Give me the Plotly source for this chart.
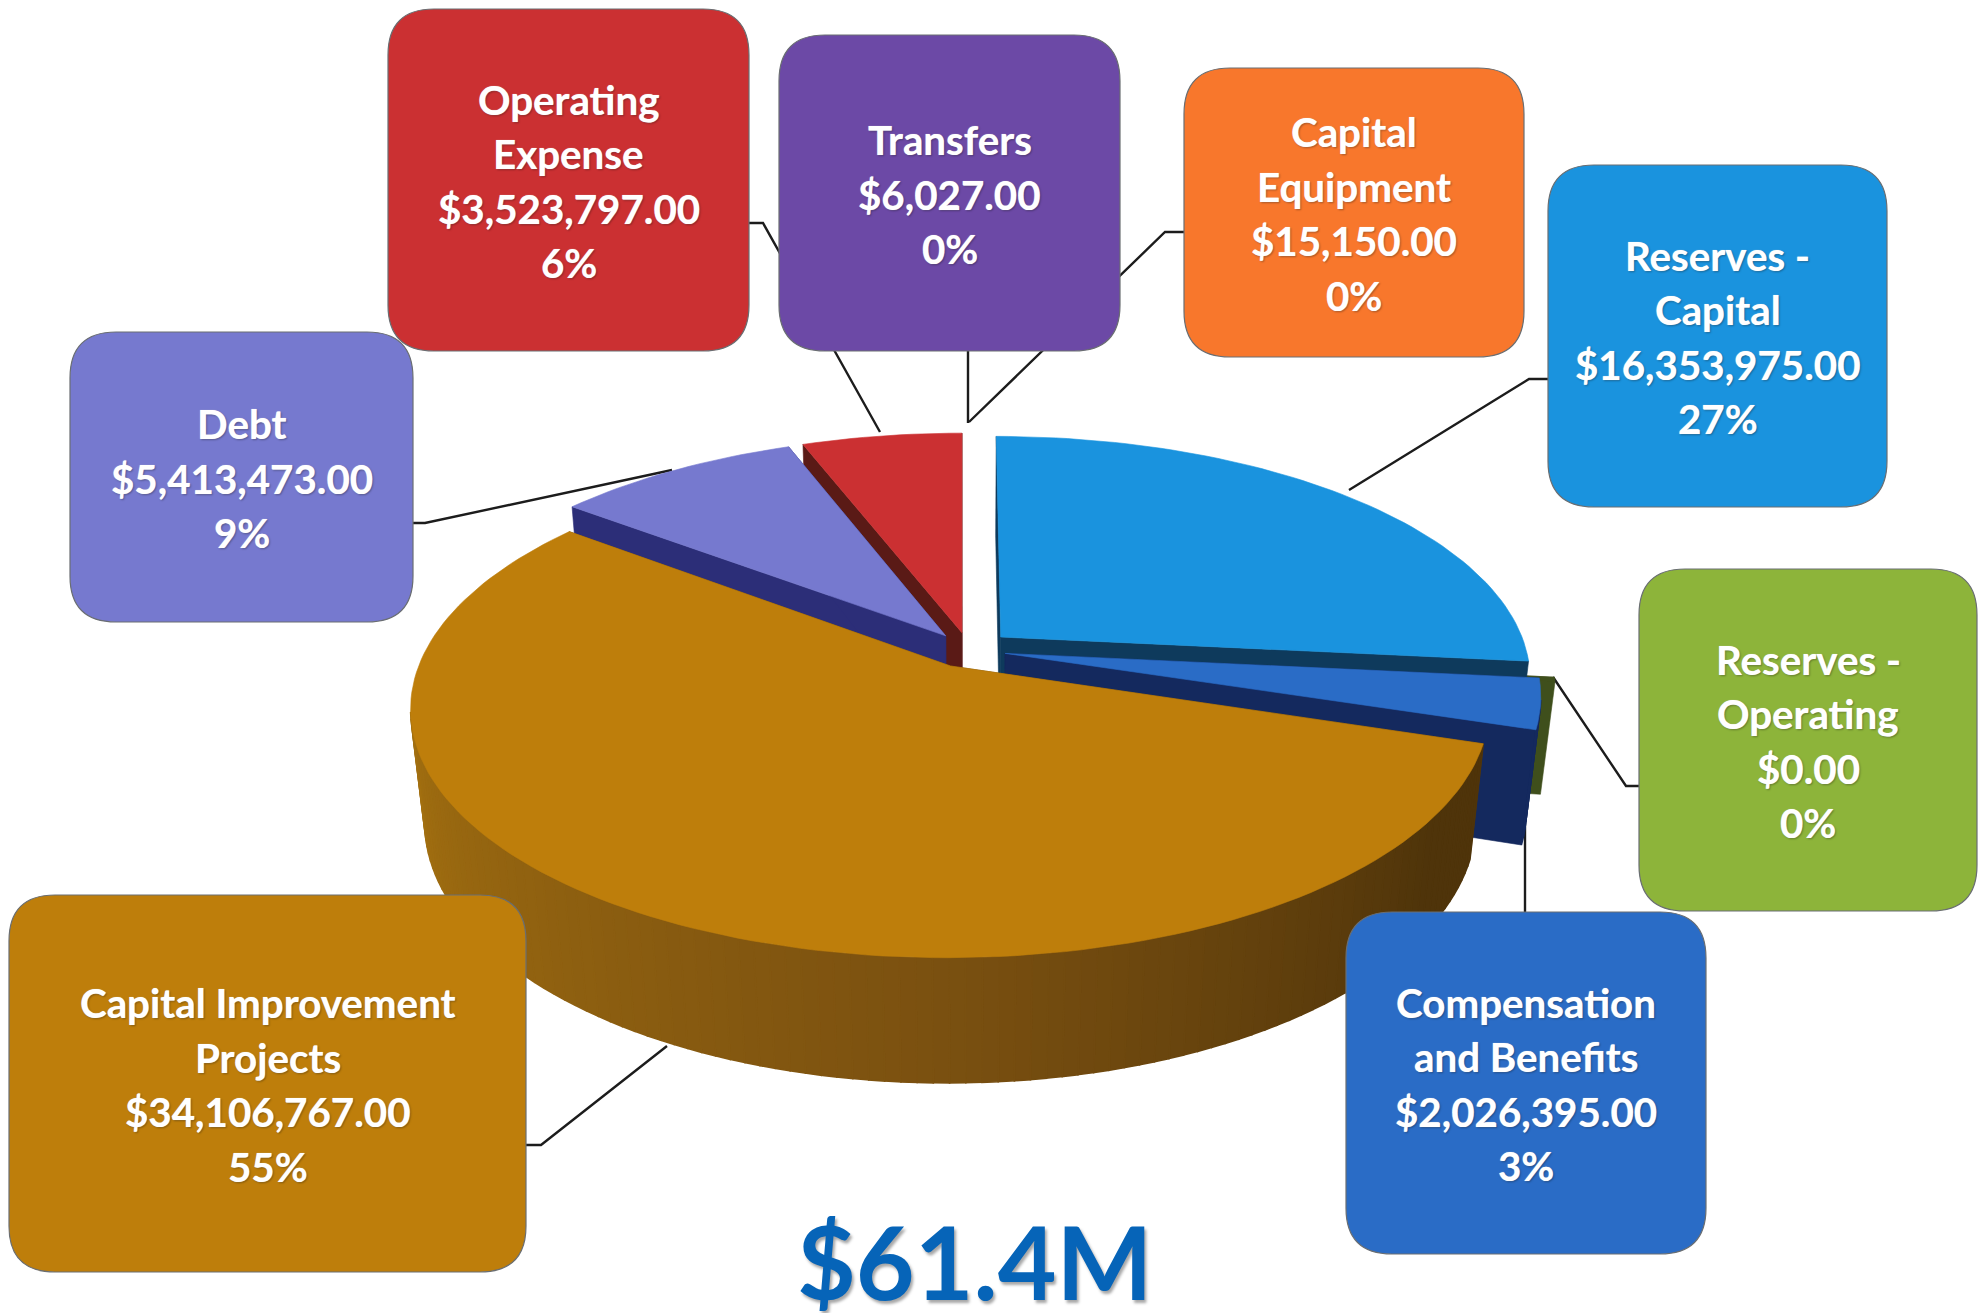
import math
import plotly.graph_objects as go

W, H = 1986, 1313

# ---- data ----
categories = ["Reserves - Capital", "Reserves - Operating", "Compensation and Benefits",
              "Capital Improvement Projects", "Debt", "Operating Expense", "Transfers", "Capital Equipment"]
values = [16353975, 0, 2026395, 34106767, 5413473, 3523797, 6027, 15150]
percents = ["27%", "0%", "3%", "55%", "9%", "6%", "0%", "0%"]
label_lines = [["Reserves -", "Capital"], ["Reserves -", "Operating"], ["Compensation", "and Benefits"],
               ["Capital Improvement", "Projects"], ["Debt"], ["Operating", "Expense"], ["Transfers"],
               ["Capital", "Equipment"]]
total_label = "$61.4M"

# ---- styles / layout ----
top_colors = ["#1A93DE", "#8DB43A", "#2A6CC6", "#BE7E0B", "#7679CF", "#CB3032", "#6C49A6", "#F8772C"]
wall_colors = ["#0E3A5C", "#3F4F1C", "#14295E", "#6E4A0C", "#2C2E78", "#5A1A16", "#33205A", "#7A3A10"]
boxes = [(1548, 165, 1887, 507), (1639, 569, 1977, 911), (1346, 912, 1706, 1254), (9, 895, 526, 1272),
         (70, 332, 413, 622), (388, 9, 749, 351), (779, 35, 1120, 351), (1184, 68, 1524, 357)]
leaders = [[(1548, 379), (1529, 379), (1349, 490)],
           [(1639, 786), (1626, 786), (1553, 677)],
           [(1525, 912), (1525, 817)],
           [(526, 1145), (541, 1145), (667, 1046)],
           [(413, 523), (425, 523), (672, 470)],
           [(749, 223), (763, 223), (880, 432)],
           [(968, 351), (968, 423)],
           [(1184, 232), (1165, 232), (969, 422)]]
CX, CY = 969, 650      # pie axis on the top face
R = 526                # radius
TILT = 0.452           # foreshortening
PERSP = 0.165          # perspective strength along depth
DEPTH = 114            # thickness on screen
DEPTH_SHRINK = 0.025
EXPLODE = [0.082, 0.098, 0.07, 0.075, 0.075, 0.075, 0.075, 0.075]
MIN_SWEEP = 1.0        # degrees, so an empty slice still shows its rim
FONT = "Lato"
FS = 40.3
LINE_H = 54.6
RADIUS = 46
TEXT_SHADOW = "0 0 1px rgba(255,255,255,0.7), 1px 1px 2px rgba(0,0,0,0.35)"


def proj(px, py, z=0.0):
    s = 1.0 / (1.0 + PERSP * py + DEPTH_SHRINK * z)
    return CX + R * px * s, CY - R * TILT * py * s + DEPTH * z * s


def mix(c1, c2, t):
    a = [int(c1[i:i + 2], 16) for i in (1, 3, 5)]
    b = [int(c2[i:i + 2], 16) for i in (1, 3, 5)]
    return "#" + "".join(f"{round(a[k] + (b[k] - a[k]) * t):02x}" for k in range(3))


fig = go.Figure()


def poly(pts, color, lw=0.6):
    xs = [p[0] for p in pts] + [pts[0][0]]
    ys = [p[1] for p in pts] + [pts[0][1]]
    fig.add_trace(go.Scatter(x=xs, y=ys, mode="lines", fill="toself", fillcolor=color,
                             line=dict(color=color, width=lw), hoverinfo="skip", showlegend=False))


# ---- angles come from the values ----
total = sum(values)
spans = []
acc = 0.0
for v in values:
    a0 = acc / total * 360
    acc += v
    spans.append((a0, acc / total * 360))

GOLD_LEFT, GOLD_MID, GOLD_RIGHT = "#A87410", "#7A5010", "#4F340A"


def gold_wall(theta):
    if theta >= 180:
        return mix(GOLD_MID, GOLD_LEFT, min(1, (theta - 180) / 90))
    return mix(GOLD_RIGHT, GOLD_MID, max(0, (theta - 125) / 55))


def draw_slice(i):
    a0, a1 = spans[i]
    empty = a1 - a0 < MIN_SWEEP
    if empty:
        a1 = a0 + MIN_SWEEP
    mid = math.radians((a0 + a1) / 2)
    ex, ey = EXPLODE[i] * math.sin(mid), EXPLODE[i] * math.cos(mid)
    n = max(3, int((a1 - a0) / 1.5))
    angs = [a0 + (a1 - a0) * k / n for k in range(n + 1)]
    rim = [(ex + math.sin(math.radians(t)), ey + math.cos(math.radians(t))) for t in angs]
    apex = (ex, ey)
    wall = wall_colors[i]
    # radial walls
    for p in (rim[0], rim[-1]):
        poly([proj(*apex), proj(*p), proj(*p, 1), proj(*apex, 1)], wall)
    # curved wall: only the stretches that face the viewer
    for k in range(n):
        if proj(*rim[k + 1])[0] >= proj(*rim[k])[0]:
            continue
        col = gold_wall((angs[k] + angs[k + 1]) / 2) if i == 3 else wall
        poly([proj(*rim[k]), proj(*rim[k + 1]), proj(*rim[k + 1], 1), proj(*rim[k], 1)], col, 1.6)
    # top face (an empty slice only shows its wall)
    poly([proj(*apex)] + [proj(*p) for p in rim], wall if empty else top_colors[i])


# ---- leader lines sit under the boxes ----
for pts in leaders:
    fig.add_trace(go.Scatter(x=[p[0] for p in pts], y=[p[1] for p in pts], mode="lines",
                             line=dict(color="#1c1c1c", width=2.4), hoverinfo="skip", showlegend=False))

for idx in (5, 4, 1, 0, 2, 3):
    draw_slice(idx)


def round_rect(x0, y0, x1, y1, r):
    return (f"M{x0 + r},{y0} L{x1 - r},{y0} Q{x1},{y0} {x1},{y0 + r} L{x1},{y1 - r} Q{x1},{y1} {x1 - r},{y1} "
            f"L{x0 + r},{y1} Q{x0},{y1} {x0},{y1 - r} L{x0},{y0 + r} Q{x0},{y0} {x0 + r},{y0} Z")


shapes = []
ann = []
for i, b in enumerate(boxes):
    shapes.append(dict(type="path", path=round_rect(*b, RADIUS), xref="x", yref="y", layer="above",
                       fillcolor=top_colors[i], line=dict(color="#6a6e72", width=1.2)))
    lines = label_lines[i] + [f"${values[i]:,.2f}", percents[i]]
    xc = (b[0] + b[2]) / 2
    yc = (b[1] + b[3]) / 2 + 1
    for k, t in enumerate(lines):
        ann.append(dict(x=xc, y=yc + (k - (len(lines) - 1) / 2) * LINE_H, xref="x", yref="y", text=t,
                        showarrow=False, xanchor="center", yanchor="middle",
                        font=dict(family=FONT, size=FS, color="white", weight="bold", shadow=TEXT_SHADOW)))
ann.append(dict(x=975, y=1261, xref="x", yref="y", text=total_label, showarrow=False,
                xanchor="center", yanchor="middle",
                font=dict(family=FONT, size=101.5, color="#0664B8", weight="bold",
                          shadow="2px 3px 3px rgba(0,0,0,0.35)")))

fig.update_layout(width=W, height=H, margin=dict(l=0, r=0, t=0, b=0), paper_bgcolor="white",
                  plot_bgcolor="white", showlegend=False, shapes=shapes, annotations=ann,
                  xaxis=dict(range=[0, W], visible=False, fixedrange=True),
                  yaxis=dict(range=[H, 0], visible=False, fixedrange=True))
fig.write_html("out.html", post_script="document.body.style.margin='0';document.body.style.overflow='hidden';",
               config={"displayModeBar": False})
